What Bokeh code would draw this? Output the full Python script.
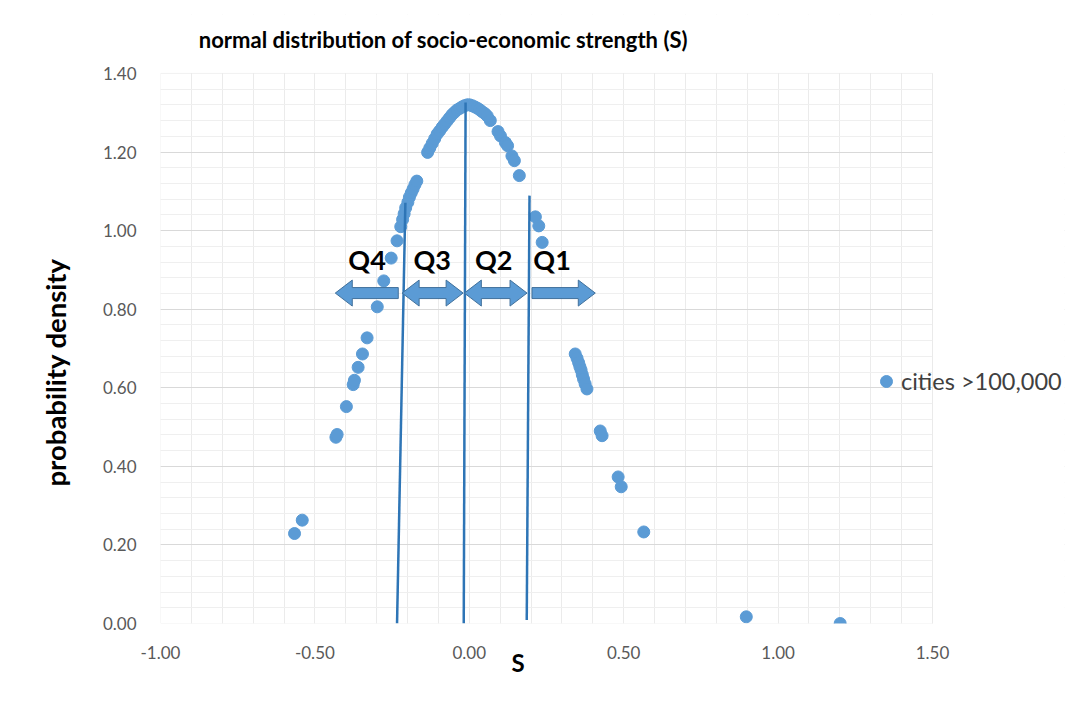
import math
from bokeh.plotting import figure
from bokeh.models import (Range1d, FixedTicker, SingleIntervalTicker, NumeralTickFormatter,
                          Label, Legend, LegendItem, ColumnDataSource, BoxAnnotation, Title)
from bokeh.embed import file_html
from bokeh.resources import INLINE

# ---- data ----
S_VALUES = [
    -0.566, -0.541, -0.432, -0.428, -0.398, -0.376, -0.372, -0.360, -0.346, -0.331,
    -0.298, -0.277, -0.253, -0.234, -0.222, -0.216, -0.211, -0.206, -0.199, -0.194,
    -0.188, -0.182, -0.176, -0.170,
    -0.135, -0.128, -0.120, -0.112, -0.104, -0.096, -0.088, -0.080, -0.072, -0.064,
    -0.056, -0.048, -0.040, -0.031, -0.023, -0.015, -0.007, 0.001, 0.009, 0.017,
    0.025, 0.033, 0.041, 0.050, 0.058, 0.068, 0.093, 0.101, 0.117, 0.124,
    0.138, 0.146, 0.162,
    0.214, 0.225, 0.236, 0.343, 0.349, 0.354, 0.358, 0.362, 0.366, 0.370,
    0.375, 0.381, 0.424, 0.430, 0.482, 0.492, 0.565, 0.897, 1.201,
]
DENSITY = [
    0.229, 0.263, 0.474, 0.481, 0.552, 0.608, 0.619, 0.652, 0.686, 0.727,
    0.806, 0.872, 0.930, 0.974, 1.010, 1.028, 1.043, 1.058, 1.072, 1.085,
    1.096, 1.106, 1.117, 1.126,
    1.199, 1.210, 1.222, 1.234, 1.246, 1.254, 1.263, 1.271, 1.279, 1.287,
    1.295, 1.301, 1.307, 1.311, 1.315, 1.318, 1.320, 1.320, 1.318, 1.315,
    1.312, 1.308, 1.303, 1.298, 1.292, 1.280, 1.252, 1.241, 1.224, 1.216,
    1.190, 1.178, 1.140,
    1.035, 1.012, 0.970, 0.686, 0.675, 0.664, 0.654, 0.645, 0.633, 0.622,
    0.610, 0.597, 0.490, 0.478, 0.373, 0.348, 0.233, 0.017, 0.000,
]
SERIES_NAME = "cities >100,000"

X_TICKS = [-1.0, -0.5, 0.0, 0.5, 1.0, 1.5]
Y_TICKS = [0.0, 0.2, 0.4, 0.6, 0.8, 1.0, 1.2, 1.4]
X_MIN, X_MAX = -1.0, 1.5
Y_MIN, Y_MAX = 0.0, 1.4

# quartile boundary lines (drawn shapes)
BOUNDARY_X_BOTTOM = [-0.234, -0.018, 0.186]
BOUNDARY_Y_BOTTOM = [0.0, 0.0, 0.009]
BOUNDARY_X_TOP = [-0.207, -0.012, 0.195]
BOUNDARY_Y_TOP = [1.071, 1.326, 1.089]

# quartile labels and arrows
QUARTILE_LABELS = ["Q4", "Q3", "Q2", "Q1"]
QUARTILE_LABEL_X = [-0.331, -0.120, 0.079, 0.268]
QUARTILE_LABEL_Y = 0.926
ARROW_START = [-0.434, -0.2175, -0.016, 0.203]
ARROW_END = [-0.230, -0.020, 0.187, 0.408]
ARROW_HEAD_LEFT = [True, True, True, False]
ARROW_HEAD_RIGHT = [False, True, True, True]
ARROW_Y = 0.841

TITLE = "normal distribution of socio-economic strength (S)"
X_LABEL = "S"
Y_LABEL = "probability density"

FONT = "Lato"
BLUE = "#5b9bd5"
LINE_BLUE = "#2e75b6"

# ---- layout (pixels) ----
W, H = 1066, 700
FRAME_LEFT, FRAME_RIGHT = 160, 1064
FRAME_TOP, FRAME_BOTTOM = 14, 623
PX_PER_X = 308.8          # pixels per unit of S
PX_PER_Y = 392.9          # pixels per unit of density
x_end = X_MIN + (FRAME_RIGHT - FRAME_LEFT) / PX_PER_X
y_end = Y_MIN + (FRAME_BOTTOM - FRAME_TOP) / PX_PER_Y

p = figure(width=W, height=H,
           x_range=Range1d(X_MIN, x_end), y_range=Range1d(Y_MIN, y_end),
           output_backend="svg", toolbar_location=None,
           min_border_left=FRAME_LEFT, min_border_right=W - FRAME_RIGHT,
           min_border_top=FRAME_TOP, min_border_bottom=H - FRAME_BOTTOM)
p.background_fill_color = "white"
p.border_fill_color = "white"
p.outline_line_color = None

for ax in (p.xaxis[0], p.yaxis[0]):
    ax.major_tick_line_color = None
    ax.minor_tick_line_color = None
    ax.major_tick_out = 0
    ax.major_tick_in = 0
    ax.axis_line_color = None
    ax.major_label_text_font = FONT
    ax.major_label_text_font_size = "17px"
    ax.major_label_text_color = "#595959"
    ax.formatter = NumeralTickFormatter(format="0.00")

p.xaxis.ticker = FixedTicker(ticks=X_TICKS)
p.yaxis.ticker = FixedTicker(ticks=Y_TICKS)
p.xaxis.major_label_standoff = 22
p.yaxis.major_label_standoff = 24

# axis titles as side-panel titles (offset along the axis)
x_title = Title(text=X_LABEL, align="left", offset=351, vertical_align="top",
                text_font=FONT, text_font_size="24px", text_font_style="bold",
                text_color="black")
try:
    x_title.standoff = -28
except Exception:
    x_title.standoff = 0
p.add_layout(x_title, "below")

y_title = Title(text=Y_LABEL, align="left", offset=137, vertical_align="bottom",
                standoff=56, text_font=FONT, text_font_size="27.5px",
                text_font_style="bold", text_color="black")
p.add_layout(y_title, "left")

p.xgrid.ticker = SingleIntervalTicker(interval=0.1, num_minor_ticks=0)
p.xgrid.bounds = (X_MIN, X_MAX)
p.xgrid.grid_line_color = "#ebebeb"
p.ygrid.ticker = SingleIntervalTicker(interval=0.2, num_minor_ticks=5)
p.ygrid.bounds = (Y_MIN, Y_MAX)
p.ygrid.grid_line_color = "#d9d9d9"
p.ygrid.minor_grid_line_color = "#efefef"

# ---- data points ----
src = ColumnDataSource(data=dict(s=S_VALUES, d=DENSITY))
pts = p.scatter("s", "d", source=src, size=12, fill_color=BLUE, line_color=BLUE)

# ---- boundary lines ----
p.segment(x0=BOUNDARY_X_BOTTOM, y0=BOUNDARY_Y_BOTTOM, x1=BOUNDARY_X_TOP, y1=BOUNDARY_Y_TOP,
          line_color=LINE_BLUE, line_width=2.5)

# ---- block arrows ----
x_per_px = 1.0 / PX_PER_X
y_per_px = 1.0 / PX_PER_Y
HEAD_LEN = 17 * x_per_px
HEAD_HALF = 13 * y_per_px
SHAFT_HALF = 5.5 * y_per_px

xs, ys = [], []
for x0, x1, hl, hr in zip(ARROW_START, ARROW_END, ARROW_HEAD_LEFT, ARROW_HEAD_RIGHT):
    y = ARROW_Y
    px, py = [], []
    if hl:
        px += [x0, x0 + HEAD_LEN, x0 + HEAD_LEN]
        py += [y, y + HEAD_HALF, y + SHAFT_HALF]
    else:
        px += [x0, x0]
        py += [y - SHAFT_HALF, y + SHAFT_HALF]
    if hr:
        px += [x1 - HEAD_LEN, x1 - HEAD_LEN, x1, x1 - HEAD_LEN, x1 - HEAD_LEN]
        py += [y + SHAFT_HALF, y + HEAD_HALF, y, y - HEAD_HALF, y - SHAFT_HALF]
    else:
        px += [x1, x1]
        py += [y + SHAFT_HALF, y - SHAFT_HALF]
    if hl:
        px += [x0 + HEAD_LEN, x0 + HEAD_LEN]
        py += [y - SHAFT_HALF, y - HEAD_HALF]
    xs.append(px)
    ys.append(py)

p.patches(xs, ys, fill_color=BLUE, line_color="#41719c", line_width=1)

# ---- keep the plot area bounded (blank margins inside the frame) ----
p.add_layout(BoxAnnotation(bottom=Y_MAX, fill_color="white", fill_alpha=1.0, line_color=None))
p.add_layout(BoxAnnotation(left=X_MAX, fill_color="white", fill_alpha=1.0, line_color=None))
p.add_layout(BoxAnnotation(left=X_MIN, right=X_MAX, bottom=Y_MIN, top=Y_MAX,
                           fill_alpha=0.0, fill_color=None,
                           line_color="#d0d0d0", line_width=1))

# ---- quartile labels ----
for lab, lx in zip(QUARTILE_LABELS, QUARTILE_LABEL_X):
    p.add_layout(Label(x=lx, y=QUARTILE_LABEL_Y, text=lab, text_font=FONT,
                       text_font_size="27px", text_font_style="bold",
                       text_color="black", text_align="center", text_baseline="middle"))

# ---- title ----
p.add_layout(Label(x=-0.084, y=1.487, text=TITLE, text_font=FONT, text_font_size="22px",
                   text_font_style="bold", text_color="black",
                   text_align="center", text_baseline="middle"))

# ---- legend ----
legend = Legend(items=[LegendItem(label=SERIES_NAME, renderers=[pts])],
                location=(711, 227), orientation="vertical",
                glyph_width=30, glyph_height=30, label_standoff=-9,
                padding=0, margin=0, spacing=0,
                border_line_color=None, background_fill_alpha=0,
                label_text_font=FONT, label_text_font_size="23.5px",
                label_text_color="#404040")
p.add_layout(legend, "center")

open("out.html", "w").write(file_html(p, INLINE))
